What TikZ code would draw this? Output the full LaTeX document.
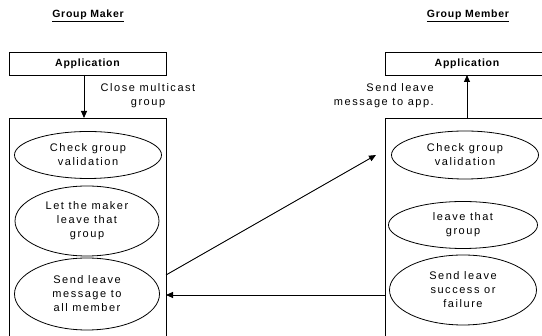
\documentclass[tikz,border=0pt]{standalone}
\usepackage{fontspec}
\setmainfont{Liberation Sans}
\newfontfamily\spfont[LetterSpace=14]{Liberation Sans}
\newfontfamily\bfspfont[LetterSpace=7]{Liberation Sans Bold}
\usetikzlibrary{arrows.meta,shapes.geometric}
\begin{document}
\begin{tikzpicture}[x=1pt,y=-1pt,
  txt/.style={font=\spfont\fontsize{11}{14}\selectfont, align=center, inner sep=0pt},
  title/.style={font=\bfspfont\fontsize{10.5}{14}\selectfont, inner sep=0pt},
  apptxt/.style={font=\bfspfont\fontsize{10.5}{14}\selectfont, inner sep=0pt},
  oval/.style={draw, ellipse, line width=0.8pt, inner sep=0pt, txt},
  frame/.style={draw, line width=0.8pt},
  arr/.style={line width=0.9pt, -{Triangle[length=7pt,width=6pt]}}]
\useasboundingbox (0,0) rectangle (542,336);

% titles
\node[title] (tm) at (88,16) {\underline{Group Maker}};
\node[title] (tg) at (468,16) {\underline{Group Member}};

% left side
\draw[frame] (9,52) rectangle (166,75);
\node[apptxt] (appL) at (87.5,64) {Application};
\coordinate (appLb) at (84,75);
\draw[frame] (9,336) -- (9,118) -- (166,118) -- (166,336);
\coordinate (boxLt) at (84,118);
\draw[arr] (appLb) -- (boxLt);
\node[txt] (close) at (148,96) {Close multicast\\group};

\node[oval, minimum width=147pt, minimum height=47pt] (l1) at (88,155) {Check group\\validation};
\node[oval, minimum width=144pt, minimum height=70pt] (l2) at (87,221) {Let the maker\\leave that\\group};
\node[oval, minimum width=145pt, minimum height=72pt] (l3) at (87,294) {Send leave\\message to\\all member};

% right side
\draw[frame] (542,52) -- (385,52) -- (385,75) -- (542,75);
\node[apptxt] (appR) at (467,64) {Application};
\coordinate (appRb) at (467,75);
\draw[frame] (385,336) -- (385,118) -- (542,118);
\coordinate (boxRt) at (467,118);
\draw[arr] (boxRt) -- (appRb);
\node[txt, align=right, anchor=east] (sendapp) at (434,96) {Send leave\\message to app.};

\node[oval, minimum width=147pt, minimum height=48pt] (r1) at (465,155) {Check group\\validation};
\node[oval, minimum width=149pt, minimum height=47pt] (r2) at (463,225) {leave that\\group};
\node[oval, minimum width=147pt, minimum height=70pt] (r3) at (463,290) {Send leave\\success or\\failure};

% cross arrows
\coordinate (lo) at (166,275);
\coordinate (ri) at (376,155);
\draw[arr] (lo) -- (ri);
\coordinate (rfrom) at (385,295);
\coordinate (lto) at (166,295);
\draw[arr] (rfrom) -- (lto);
\end{tikzpicture}
\end{document}
